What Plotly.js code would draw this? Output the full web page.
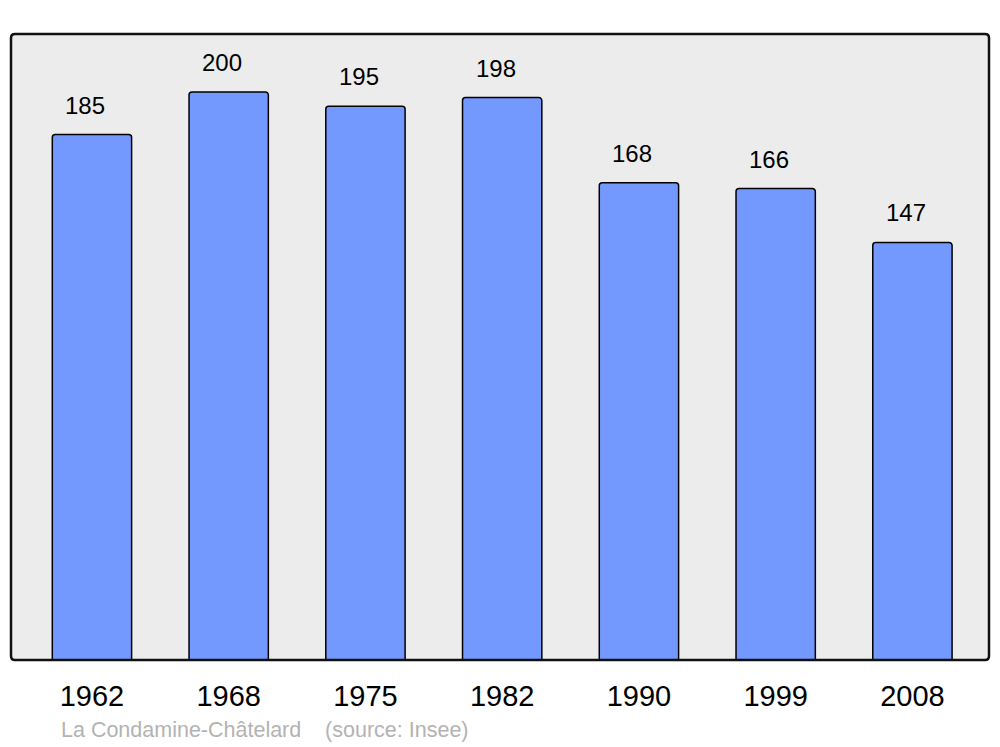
<!DOCTYPE html>
<html>
<head>
<meta charset="utf-8">
<script src="https://cdn.plot.ly/plotly-3.0.1.min.js"></script>
<style>html,body{margin:0;padding:0;background:#fff;}#chart{width:1000px;height:747px;}</style>
</head>
<body>
<div id="chart"></div>
<script>
const years = ["1962", "1968", "1975", "1982", "1990", "1999", "2008"];
const population = [185, 200, 195, 198, 168, 166, 147];
const footerText = "La Condamine-Châtelard    (source: Insee)";

const W = 1000, H = 747;
const margin = {l: 11, r: 11, t: 34, b: 87};
const pw = W - margin.l - margin.r, ph = H - margin.t - margin.b;
const rx = 4 / pw, ry = 4 / ph;
const borderPath = `M ${rx} 0 L ${1 - rx} 0 Q 1 0 1 ${ry} L 1 ${1 - ry} Q 1 1 ${1 - rx} 1 L ${rx} 1 Q 0 1 0 ${1 - ry} L 0 ${ry} Q 0 0 ${rx} 0 Z`;

const trace = {
  type: 'bar',
  x: years,
  y: population,
  width: 0.58,
  marker: {color: '#7399ff', line: {color: '#000000', width: 1.5}, cornerradius: 3},
  hoverinfo: 'none'
};

const annotations = years.map((yr, i) => ({
  x: i, y: population[i], xref: 'x', yref: 'y',
  text: String(population[i]), showarrow: false,
  yanchor: 'bottom', yshift: 14, xshift: -6.5,
  font: {family: 'Liberation Sans, Arial, sans-serif', size: 24, color: '#000'}
}));
annotations.push({
  xref: 'paper', yref: 'paper', x: 48 / pw, y: -(730 - 660) / ph,
  xanchor: 'left', yanchor: 'middle', showarrow: false,
  text: footerText,
  font: {family: 'Liberation Sans, Arial, sans-serif', size: 21.5, color: '#b3b3b3'}
});

const layout = {
  width: W, height: H,
  margin: margin,
  paper_bgcolor: '#ffffff',
  plot_bgcolor: '#ececec',
  showlegend: false,
  xaxis: {
    type: 'category', range: [-0.592, 6.56],
    showgrid: false, zeroline: false, showline: false, ticks: '',
    ticklabelstandoff: 16,
    tickfont: {family: 'Liberation Sans, Arial, sans-serif', size: 29, color: '#000'}
  },
  yaxis: {
    range: [0, 220.4], showgrid: false, zeroline: false, showline: false,
    showticklabels: false, ticks: ''
  },
  annotations: annotations,
  shapes: [{
    type: 'path', xref: 'paper', yref: 'paper', path: borderPath,
    line: {color: '#111111', width: 2.5}, layer: 'above'
  }]
};

Plotly.newPlot('chart', [trace], layout, {staticPlot: true, displayModeBar: false});
</script>
</body>
</html>
